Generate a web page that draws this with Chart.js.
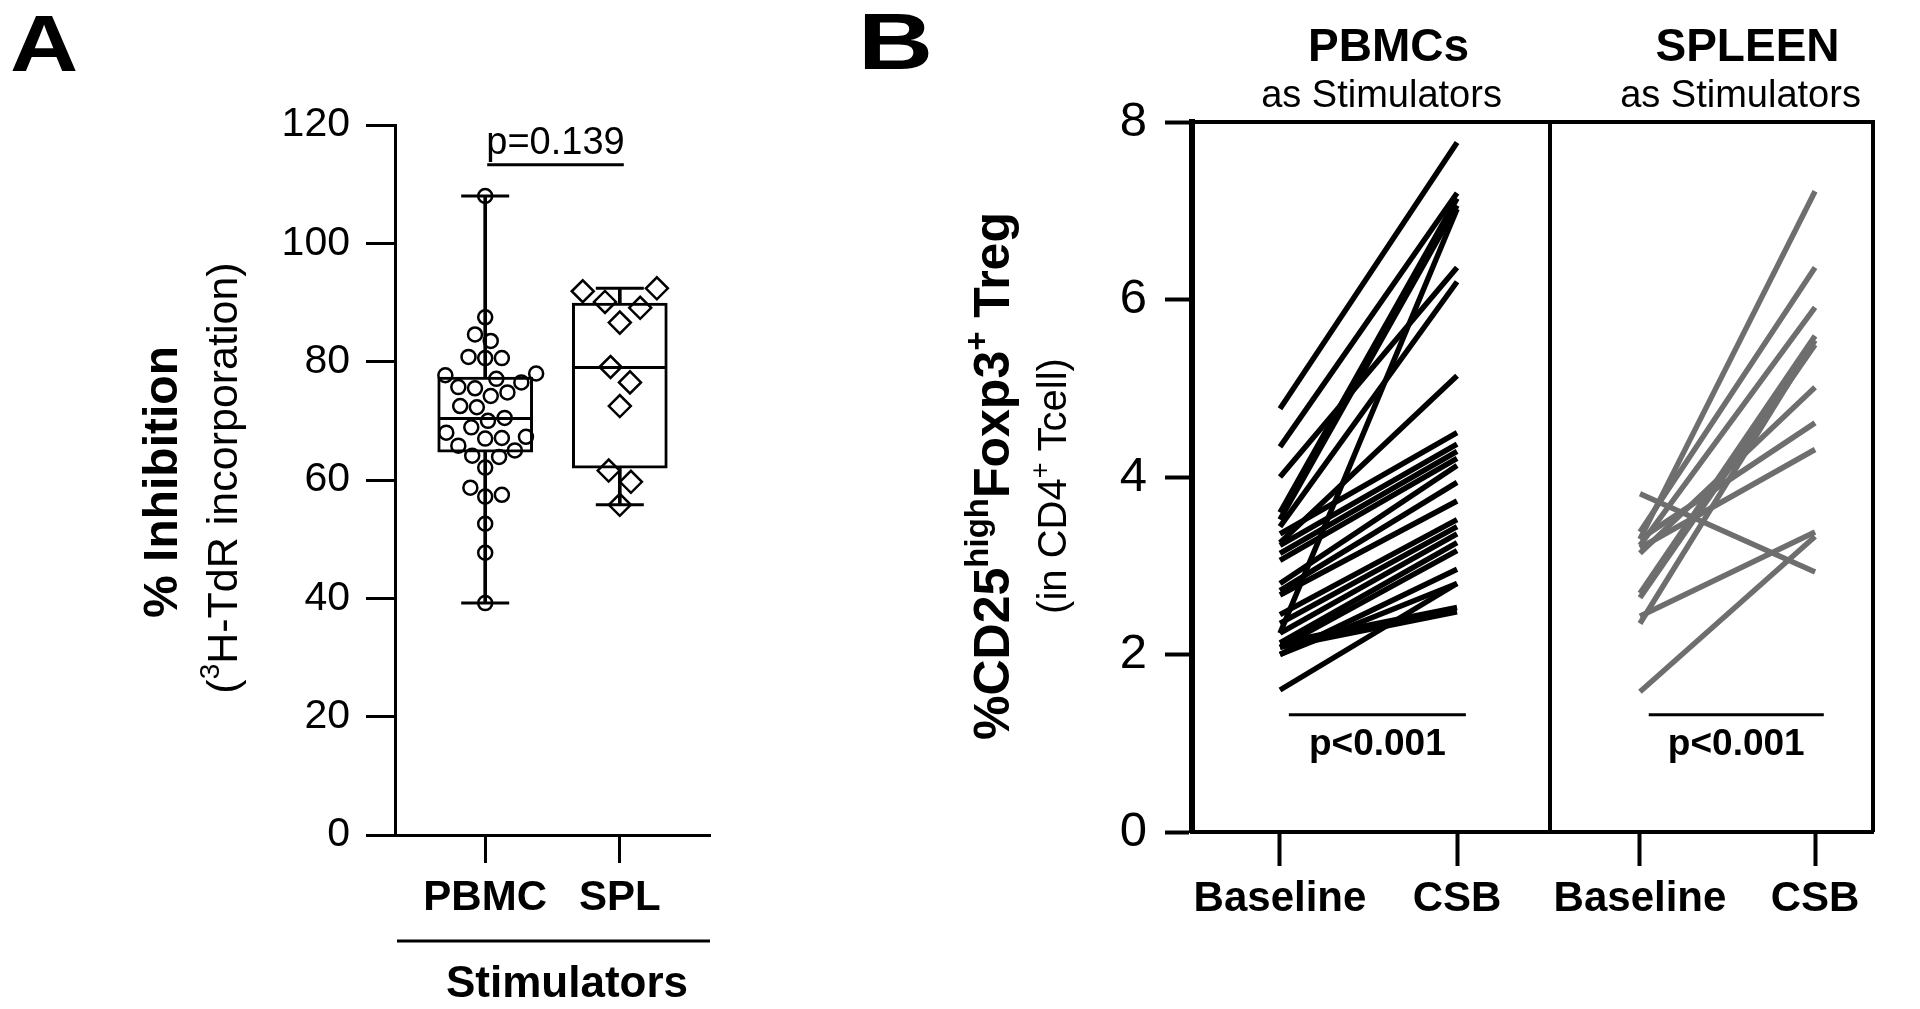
<!DOCTYPE html>
<html>
<head>
<meta charset="utf-8">
<script src="https://cdn.jsdelivr.net/npm/chart.js@4.4.1/dist/chart.umd.min.js"></script>
<style>
  html, body { margin: 0; padding: 0; background: #fff; }
  body { width: 1920px; height: 1009px; position: relative; overflow: hidden; font-family: 'Liberation Sans', Arial, sans-serif; }
  canvas { position: absolute; top: 0; }
  #cA { left: 0; }
  #cB1 { left: 900px; }
  #cB2 { left: 1540px; }
  .panel { position: absolute; font-weight: bold; line-height: 1; transform-origin: left top; }
</style>
</head>
<body>
<div class="panel" style="left:10px;top:4px;font-size:80px;transform:scaleX(1.18)">A</div>
<div class="panel" style="left:858px;top:2px;font-size:80px;transform:scaleX(1.3)">B</div>
<canvas id="cA" width="760" height="1009"></canvas>
<canvas id="cB1" width="654" height="1009"></canvas>
<canvas id="cB2" width="345" height="1009"></canvas>
<script>
'use strict'

// ---- data, panel A (% inhibition per stimulator) ----
const groupsA = ['PBMC', 'SPL'];
const pbmcInhibition = [108, 87.5, 84.6, 83.5, 80.6, 80.8, 80.6, 78.0, 77.7, 77.1, 76.5, 75.7, 75.5, 74.8,
  74.2, 72.5, 72.3, 70.5, 70.0, 68.9, 68.0, 67.1, 67.3, 67.0, 65.8, 65.0, 64.1, 63.9, 62.1, 58.7, 57.2,
  57.5, 52.6, 47.7, 39.2];
const splInhibition = [91.9, 92.4, 89.1, 90.1, 86.6, 79.1, 76.5, 72.5, 61.6, 59.7, 55.8];
// box as drawn: min, q1, median, q3, max
const pbmcBox = [39.2, 64.7, 70.4, 77.4, 108];
const splBox = [55.8, 62.0, 79.0, 89.9, 92.4];
const yTicksA = [0, 20, 40, 60, 80, 100, 120];
const pTextA = 'p=0.139';
const bracketA = 113.3;

// ---- data, panel B (%CD25high Foxp3+ Treg, paired) ----
const conditions = ['Baseline', 'CSB'];
const pbmcBaseline = [4.77, 4.34, 4.00, 3.60, 3.52, 3.44, 2.24, 3.26, 3.36, 3.23, 3.14, 3.06, 2.80,
  2.72, 2.67, 2.45, 2.35, 2.24, 2.13, 2.08, 2.00, 2.00, 2.13, 2.08, 1.60];
const pbmcCsb = [7.77, 7.20, 6.36, 7.14, 7.06, 6.20, 7.02, 5.14, 4.50, 4.37, 4.29, 4.21, 4.13,
  3.94, 3.73, 3.52, 3.44, 3.36, 3.26, 3.17, 2.96, 2.80, 2.53, 2.48, 2.80];
const spleenBaseline = [3.81, 3.30, 3.38, 3.23, 2.69, 2.64, 2.35, 3.14, 3.30, 3.20, 2.43, 1.58];
const spleenCsb = [2.93, 7.22, 6.36, 5.91, 5.59, 5.49, 5.54, 5.01, 4.61, 4.31, 3.38, 3.33];
const yTicksB = [0, 2, 4, 6, 8];
const pTextB = 'p<0.001';
const bracketB = 1.32;

const fam = "'Liberation Sans', Arial, Helvetica, sans-serif";
Chart.defaults.font.family = fam;
Chart.defaults.color = '#000';

function fontStr(size, bold) {
  return (bold ? 'bold ' : '') + size + 'px ' + fam;
}

// text made of pieces (for superscripts), centred on x, baseline at y
function drawRich(ctx, parts, x, y, vertical) {
  ctx.save();
  ctx.translate(x, y);
  if (vertical) ctx.rotate(-Math.PI / 2);
  ctx.textAlign = 'left';
  ctx.textBaseline = 'alphabetic';
  ctx.fillStyle = '#000';
  let total = 0;
  parts.forEach(function (p) {
    ctx.font = fontStr(p.size, p.bold);
    p.w = ctx.measureText(p.text).width;
    total += p.w;
  });
  let cx = -total / 2;
  parts.forEach(function (p) {
    ctx.font = fontStr(p.size, p.bold);
    ctx.fillText(p.text, cx, -(p.rise || 0));
    cx += p.w;
  });
  ctx.restore();
}

function hline(ctx, x1, x2, y, w) {
  ctx.save();
  ctx.strokeStyle = '#000';
  ctx.lineWidth = w;
  ctx.beginPath();
  ctx.moveTo(x1, y);
  ctx.lineTo(x2, y);
  ctx.stroke();
  ctx.restore();
}

// simple beeswarm: spread overlapping points sideways
function swarm(values, center, pxPerX, pxPerY, diam) {
  const placed = [];
  const out = new Array(values.length);
  const order = values.map(function (v, i) { return i; }).sort(function (a, b) { return values[a] - values[b]; });
  order.forEach(function (i) {
    const py = values[i] * pxPerY;
    let best = 0;
    for (let k = 0; k < 400; k++) {
      const off = (k % 2 ? 1 : -1) * Math.ceil(k / 2);
      const free = placed.every(function (p) { return Math.hypot(p.x - off, p.y - py) >= diam; });
      if (free) { best = off; break; }
    }
    placed.push({ x: best, y: py });
    out[i] = { x: center + best / pxPerX, y: values[i] };
  });
  return out;
}

function tickGrid(len, w) {
  return { offset: false, drawOnChartArea: false, drawTicks: true, tickLength: len, tickWidth: w, tickColor: '#000' };
}

// ---------------- Panel A ----------------
const xMinA = -0.67, xMaxA = 1.67;
const pxXA = 340 / (xMaxA - xMinA), pxYA = 710 / 120;

const panelAExtras = {
  id: 'panelAExtras',
  afterDraw: function (chart) {
    const ctx = chart.ctx, x = chart.scales.x, y = chart.scales.y, a = chart.chartArea;
    drawRich(ctx, [{ text: '% Inhibition', size: 48, bold: true }], 177, 482, true);
    drawRich(ctx, [{ text: '(', size: 43 }, { text: '3', size: 28, rise: 18 }, { text: 'H-TdR incorporation)', size: 43 }], 237, 478, true);
    const yb = y.getPixelForValue(bracketA);
    const x0 = x.getPixelForValue(0), x1 = x.getPixelForValue(1);
    hline(ctx, x0 + 2, x1 + 4, yb, 3);
    drawRich(ctx, [{ text: pTextA, size: 38 }], (x0 + x1) / 2 + 3, yb - 11, false);
    hline(ctx, a.left + 2, a.right, 941, 3);
    drawRich(ctx, [{ text: 'Stimulators', size: 44, bold: true }], 567, 997, false);
  }
};

new Chart(document.getElementById('cA'), {
  type: 'bar',
  data: {
    datasets: [
      {
        label: 'whisker',
        data: [{ x: 0, y: [pbmcBox[0], pbmcBox[4]] }, { x: 1, y: [splBox[0], splBox[4]] }],
        backgroundColor: '#000', borderWidth: 0, barThickness: 3, grouped: false, order: 5
      },
      {
        label: 'box',
        data: [{ x: 0, y: [pbmcBox[1], pbmcBox[3]] }, { x: 1, y: [splBox[1], splBox[3]] }],
        backgroundColor: '#fff', borderColor: '#000', borderWidth: 3, borderSkipped: false,
        barThickness: 95, grouped: false, order: 4
      },
      {
        type: 'scatter', label: 'median',
        data: [{ x: 0, y: pbmcBox[2] }, { x: 1, y: splBox[2] }],
        pointStyle: 'line', pointRadius: 47, borderColor: '#000', borderWidth: 3, order: 3
      },
      {
        type: 'scatter', label: 'caps',
        data: [{ x: 0, y: pbmcBox[0] }, { x: 0, y: pbmcBox[4] }, { x: 1, y: splBox[0] }, { x: 1, y: splBox[4] }],
        pointStyle: 'line', pointRadius: 24, borderColor: '#000', borderWidth: 3, order: 3
      },
      {
        type: 'scatter', label: groupsA[0],
        data: swarm(pbmcInhibition, 0, pxXA, pxYA, 18),
        pointStyle: 'circle', pointRadius: 7, borderWidth: 2.5, borderColor: '#000',
        backgroundColor: 'rgba(0,0,0,0)', order: 1
      },
      {
        type: 'scatter', label: groupsA[1],
        data: swarm(splInhibition, 1, pxXA, pxYA, 26),
        pointStyle: 'rectRot', pointRadius: 11, borderWidth: 2.5, borderColor: '#000',
        backgroundColor: 'rgba(0,0,0,0)', order: 1
      }
    ]
  },
  options: {
    responsive: false,
    animation: false,
    events: [],
    layout: { padding: { top: 125, right: 25, left: 0, bottom: 0 } },
    plugins: { legend: { display: false }, tooltip: { enabled: false } },
    scales: {
      x: {
        type: 'linear', min: xMinA, max: xMaxA, offset: false,
        afterBuildTicks: function (s) { s.ticks = [{ value: 0 }, { value: 1 }]; },
        afterFit: function (s) { s.height = 174; },
        ticks: { font: { size: 42, weight: 'bold' }, padding: 10, maxRotation: 0, autoSkip: false,
          callback: function (v) { return groupsA[v]; } },
        grid: tickGrid(28, 3),
        border: { display: true, color: '#000', width: 3 }
      },
      y: {
        min: 0, max: 120,
        afterBuildTicks: function (s) { s.ticks = yTicksA.map(function (v) { return { value: v }; }); },
        afterFit: function (s) { s.width = 395; },
        ticks: { font: { size: 41 }, padding: 16 },
        grid: tickGrid(29, 3),
        border: { display: true, color: '#000', width: 3 }
      }
    }
  },
  plugins: [panelAExtras]
});

// ---------------- Panel B ----------------
function panelBExtras(title) {
  return {
    id: 'panelBExtras',
    afterDraw: function (chart) {
      const ctx = chart.ctx, x = chart.scales.x, y = chart.scales.y, a = chart.chartArea;
      ctx.save();
      ctx.strokeStyle = '#000';
      ctx.lineWidth = 4;
      ctx.beginPath();
      ctx.moveTo(a.left, a.top);
      ctx.lineTo(a.right, a.top);
      ctx.lineTo(a.right, a.bottom);
      ctx.stroke();
      ctx.restore();
      const mid = (x.getPixelForValue(0) + x.getPixelForValue(1)) / 2;
      drawRich(ctx, [{ text: title, size: 46, bold: true }], mid + 20, 61, false);
      drawRich(ctx, [{ text: 'as Stimulators', size: 38 }], mid + 13, 107, false);
      const yl = y.getPixelForValue(bracketB);
      hline(ctx, x.getPixelForValue(0.05), x.getPixelForValue(1.05), yl, 3);
      drawRich(ctx, [{ text: pTextB, size: 37, bold: true }], x.getPixelForValue(0.55), yl + 40, false);
    }
  };
}

const yTitleB = {
  id: 'yTitleB',
  afterDraw: function (chart) {
    const ctx = chart.ctx;
    drawRich(ctx, [
      { text: '%CD25', size: 50, bold: true },
      { text: 'high', size: 33, bold: true, rise: 21 },
      { text: 'Foxp3', size: 50, bold: true },
      { text: '+', size: 33, bold: true, rise: 21 },
      { text: ' Treg', size: 50, bold: true }
    ], 109, 476, true);
    drawRich(ctx, [
      { text: '(in CD4', size: 40 },
      { text: '+', size: 27, rise: 17 },
      { text: ' Tcell)', size: 40 }
    ], 166, 486, true);
  }
};

function pairDatasets(base, csb, color) {
  return base.map(function (b, i) {
    return {
      type: 'line',
      data: [{ x: 0, y: b }, { x: 1, y: csb[i] }],
      borderColor: color, borderWidth: 5.5, borderCapStyle: 'butt',
      pointRadius: 0, fill: false
    };
  });
}

function xAxisB(min, max) {
  return {
    type: 'linear', min: min, max: max, offset: false,
    afterBuildTicks: function (s) { s.ticks = [{ value: 0 }, { value: 1 }]; },
    afterFit: function (s) { s.height = 177; },
    ticks: { font: { size: 42, weight: 'bold' }, padding: 8, maxRotation: 0, minRotation: 0, autoSkip: false,
      callback: function (v) { return conditions[v]; } },
    grid: tickGrid(34, 4),
    border: { display: true, color: '#000', width: 4 }
  };
}

new Chart(document.getElementById('cB1'), {
  type: 'line',
  data: { datasets: pairDatasets(pbmcBaseline, pbmcCsb, '#000') },
  options: {
    responsive: false,
    animation: false,
    events: [],
    layout: { padding: { top: 122, right: 4, left: 0, bottom: 0 } },
    plugins: { legend: { display: false }, tooltip: { enabled: false } },
    scales: {
      x: xAxisB(-0.497, 1.525),
      y: {
        min: 0, max: 8,
        afterBuildTicks: function (s) { s.ticks = yTicksB.map(function (v) { return { value: v }; }); },
        afterFit: function (s) { s.width = 292; },
        ticks: { font: { size: 49 }, padding: 18 },
        grid: tickGrid(27, 4),
        border: { display: true, color: '#000', width: 6 }
      }
    }
  },
  plugins: [panelBExtras('PBMCs'), yTitleB]
});

new Chart(document.getElementById('cB2'), {
  type: 'line',
  data: { datasets: pairDatasets(spleenBaseline, spleenCsb, '#6e6e6e') },
  options: {
    responsive: false,
    animation: false,
    events: [],
    layout: { padding: { top: 122, right: 12, left: 10, bottom: 0 } },
    plugins: { legend: { display: false }, tooltip: { enabled: false } },
    scales: {
      x: xAxisB(-0.514, 1.331),
      y: { display: false, min: 0, max: 8 }
    }
  },
  plugins: [panelBExtras('SPLEEN')]
});
</script>
</body>
</html>
